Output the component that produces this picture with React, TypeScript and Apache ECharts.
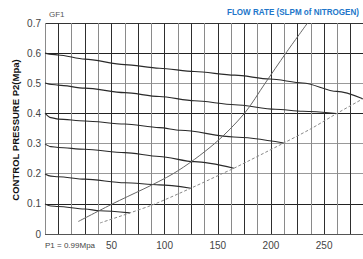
import React, { useEffect, useRef } from "react";
import * as echarts from "echarts";

// Pressure-setting curves (flow in SLPM, control pressure P2 in MPa)
const p06Flow = [-12.5, -6, 0, 25, 62.5, 95, 128, 166, 199, 230, 262, 286.4];
const p06Pres = [0.6, 0.596, 0.594, 0.58, 0.562, 0.55, 0.539, 0.527, 0.514, 0.501, 0.473, 0.4485];

const p05Flow = [-12.5, -6, 0, 25, 62.5, 95, 128, 166, 204, 230, 261.7];
const p05Pres = [0.501, 0.496, 0.494, 0.484, 0.469, 0.456, 0.442, 0.429, 0.414, 0.407, 0.4];

const p04Flow = [-12.5, -7, 0, 25, 62.5, 95, 115, 165, 212];
const p04Pres = [0.401, 0.386, 0.381, 0.375, 0.365, 0.353, 0.344, 0.322, 0.302];

const p03Flow = [-12.5, -7, 0, 25, 62.5, 95, 128, 165.1];
const p03Pres = [0.299, 0.29, 0.287, 0.281, 0.27, 0.257, 0.24, 0.218];

const p02Flow = [-12.5, -7, 0, 25, 62.5, 95, 124.7];
const p02Pres = [0.199, 0.192, 0.19, 0.182, 0.17, 0.163, 0.152];

const p01Flow = [-12.5, -7, 0, 25, 39, 67.4];
const p01Pres = [0.0997, 0.093, 0.091, 0.083, 0.077, 0.07];

// Solid limit curve
const solidFlow = [18.8, 51, 108, 147, 175, 194.5, 214, 234.4];
const solidPres = [0.0415, 0.1, 0.2, 0.3, 0.4, 0.5, 0.6, 0.7];

// Dashed limit curve
const dashFlow = [39.2, 67.4, 91, 124.7, 154, 165.1, 211, 237.5, 262, 286.4];
const dashPres = [0.0365, 0.07, 0.1, 0.152, 0.2, 0.218, 0.3, 0.349, 0.4, 0.4485];

const xLabelValues = [50, 100, 150, 200, 250];

const zip = (xs: number[], ys: number[]) => xs.map((x, i) => [x, ys[i]]);

export default function App() {
  const ref = useRef<HTMLDivElement>(null);
  useEffect(() => {
    document.body.style.margin = "0";
    if (!ref.current) return;
    const chart = echarts.init(ref.current, null, { renderer: "svg" });
    const curve = (name: string, xs: number[], ys: number[]) => ({
      name,
      type: "line",
      data: zip(xs, ys),
      showSymbol: false,
      smooth: 0.3,
      smoothMonotone: "x",
      lineStyle: { color: "#2a2a2a", width: 1.1 },
      z: 3,
    });
    chart.setOption({
      animation: false,
      backgroundColor: "#ffffff",
      grid: {
        left: 45,
        top: 23,
        right: -1,
        bottom: 25,
        containLabel: false,
        outerBoundsMode: "none",
      },
      xAxis: {
        type: "value",
        min: -12.5,
        max: 287.5,
        interval: 12.5,
        axisLine: { show: false },
        axisTick: { show: false },
        axisLabel: {
          color: "#444",
          fontSize: 10,
          fontFamily: "Liberation Sans",
          margin: 6,
          formatter: (v: number) => (xLabelValues.indexOf(v) >= 0 ? String(v) : ""),
        },
        splitLine: {
          show: true,
          lineStyle: { color: ["#8a8a8a", "#2e2e2e"], width: 1 },
        },
      },
      yAxis: {
        type: "value",
        min: 0,
        max: 0.7,
        interval: 0.1,
        axisLine: { show: false },
        axisTick: { show: false },
        axisLabel: {
          color: "#444",
          fontSize: 10,
          fontFamily: "Liberation Sans",
          margin: 4,
          formatter: (v: number) => (Math.abs(v) < 1e-9 ? "0" : v.toFixed(1)),
        },
        splitLine: {
          show: true,
          lineStyle: {
            color: ["#555", "#222", "#999", "#999", "#222", "#999", "#222", "#333"],
            width: 1,
          },
        },
      },
      series: [
        curve("0.6", p06Flow, p06Pres),
        curve("0.5", p05Flow, p05Pres),
        curve("0.4", p04Flow, p04Pres),
        curve("0.3", p03Flow, p03Pres),
        curve("0.2", p02Flow, p02Pres),
        curve("0.1", p01Flow, p01Pres),
        {
          name: "limit",
          type: "line",
          data: zip(solidFlow, solidPres),
          showSymbol: false,
          smooth: 0.3,
          lineStyle: { color: "#666", width: 1 },
          z: 3,
        },
        {
          name: "limit2",
          type: "line",
          data: zip(dashFlow, dashPres),
          showSymbol: false,
          smooth: 0.3,
          lineStyle: { color: "#888", width: 1, type: [3, 2] },
          z: 3,
        },
      ],
      graphic: [
        {
          type: "text",
          x: 49,
          y: 14,
          style: {
            text: "GF1",
            fill: "#555",
            fontSize: 8,
            fontFamily: "Liberation Sans",
            verticalAlign: "middle",
          },
        },
        {
          type: "text",
          x: 227,
          y: 12,
          scaleX: 0.85,
          style: {
            text: "FLOW RATE (SLPM of NITROGEN)",
            fill: "#2176c9",
            fontSize: 9.5,
            fontWeight: "bold",
            fontFamily: "Liberation Sans",
            verticalAlign: "middle",
          },
        },
        {
          type: "text",
          x: 15,
          y: 130,
          rotation: Math.PI / 2,
          style: {
            text: "CONTROL PRESSURE P2(Mpa)",
            fill: "#111",
            fontSize: 9.5,
            fontWeight: "bold",
            fontFamily: "Liberation Sans",
            align: "center",
            verticalAlign: "middle",
          },
        },
        {
          type: "text",
          x: 45,
          y: 245,
          style: {
            text: "P1 = 0.99Mpa",
            fill: "#444",
            fontSize: 8,
            fontFamily: "Liberation Sans",
            verticalAlign: "middle",
          },
        },
      ],
    });
    return () => chart.dispose();
  }, []);
  return <div ref={ref} style={{ width: 363, height: 259 }} />;
}
